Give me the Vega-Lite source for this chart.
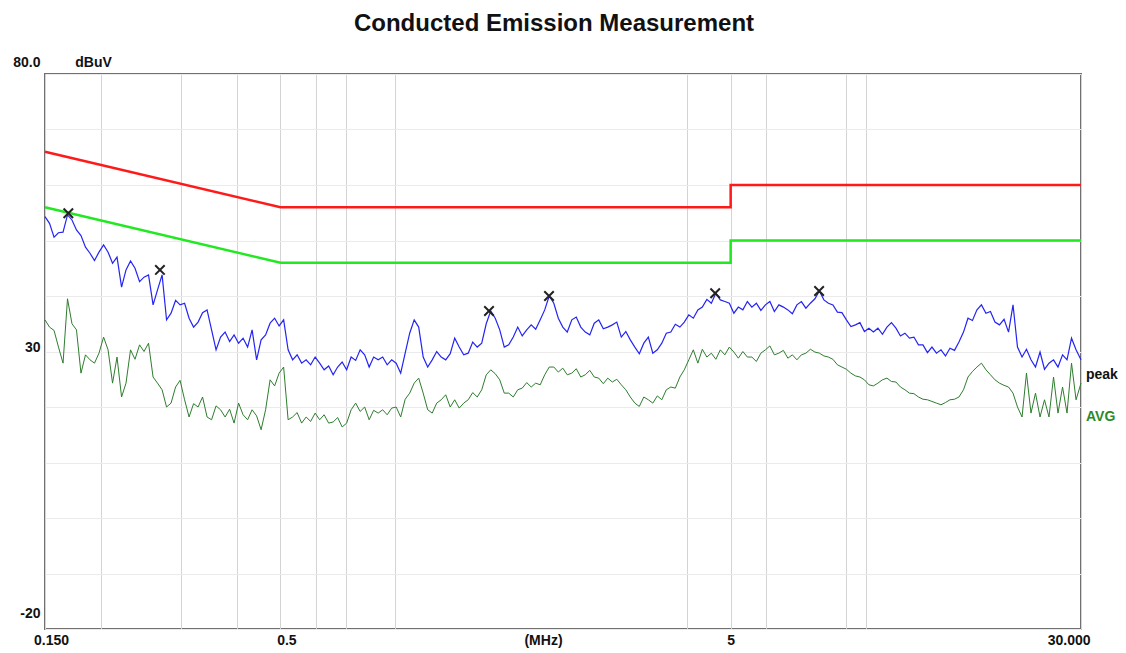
{
  "$schema": "https://vega.github.io/schema/vega-lite/v6.json",
  "width": 1036,
  "height": 555,
  "autosize": {"type": "none"},
  "padding": {"left": 45, "top": 74, "right": 45, "bottom": 24},
  "background": "white",
  "title": {"text": "Conducted Emission Measurement", "font": "Liberation Sans", "fontSize": 24, "fontWeight": "bold", "color": "#111111", "anchor": "middle", "frame": "group", "baseline": "bottom", "offset": -5, "dx": -9},
  "config": {"view": {"stroke": "#707070", "strokeWidth": 2}},
  "datasets": {
    "qp": [{"f":0.15,"v":66,"o":1},{"f":0.5,"v":56,"o":2},{"f":5,"v":56,"o":3},{"f":5,"v":60,"o":4},{"f":30,"v":60,"o":5}],
    "av": [{"f":0.15,"v":56,"o":1},{"f":0.5,"v":46,"o":2},{"f":5,"v":46,"o":3},{"f":5,"v":50,"o":4},{"f":30,"v":50,"o":5}],
    "peak": [
      {"f":0.150,"v":54.3},{"f":0.1535,"v":53.1},{"f":0.1571,"v":50.6},{"f":0.1607,"v":51.4},{"f":0.1645,"v":51.5},{"f":0.1683,"v":54.6},{"f":0.1722,"v":53.7},{"f":0.1762,"v":51.9},{"f":0.1803,"v":50.9},{"f":0.1845,"v":48.8},{"f":0.1888,"v":47.7},{"f":0.1932,"v":46.4},{"f":0.1977,"v":47.9},{"f":0.2024,"v":49.2},{"f":0.2071,"v":47.9},{"f":0.2119,"v":45.9},{"f":0.2168,"v":47.0},{"f":0.2219,"v":41.6},{"f":0.2270,"v":44.7},{"f":0.2323,"v":46.3},{"f":0.2377,"v":45.0},{"f":0.2433,"v":42.6},{"f":0.2489,"v":43.4},{"f":0.2547,"v":43.8},{"f":0.2607,"v":38.4},{"f":0.2667,"v":41.1},{"f":0.2730,"v":43.8},{"f":0.2793,"v":35.7},{"f":0.2858,"v":36.9},{"f":0.2925,"v":39.2},{"f":0.2993,"v":38.4},{"f":0.3063,"v":38.7},{"f":0.3134,"v":36.0},{"f":0.3207,"v":34.4},{"f":0.3282,"v":35.3},{"f":0.3358,"v":37.0},{"f":0.3436,"v":37.5},{"f":0.3516,"v":33.9},{"f":0.3598,"v":30.3},{"f":0.3682,"v":32.6},{"f":0.3768,"v":33.5},{"f":0.3856,"v":31.8},{"f":0.3945,"v":33.0},{"f":0.4037,"v":31.5},{"f":0.4131,"v":32.4},{"f":0.4228,"v":30.8},{"f":0.4326,"v":33.9},{"f":0.4427,"v":28.5},{"f":0.4530,"v":32.1},{"f":0.4635,"v":33.0},{"f":0.4743,"v":35.1},{"f":0.4854,"v":36.0},{"f":0.4967,"v":34.6},{"f":0.5083,"v":35.7},{"f":0.5201,"v":30.3},{"f":0.5322,"v":28.5},{"f":0.5446,"v":29.4},{"f":0.5573,"v":27.9},{"f":0.5703,"v":28.5},{"f":0.5836,"v":27.6},
      {"f":0.5972,"v":29.0},{"f":0.6111,"v":27.9},{"f":0.6253,"v":26.7},{"f":0.6399,"v":27.4},{"f":0.6548,"v":25.8},{"f":0.6700,"v":27.2},{"f":0.6856,"v":28.1},{"f":0.7016,"v":26.7},{"f":0.7179,"v":29.0},{"f":0.7347,"v":28.4},{"f":0.7518,"v":30.3},{"f":0.7693,"v":29.4},{"f":0.7872,"v":27.2},{"f":0.8055,"v":29.0},{"f":0.8243,"v":28.5},{"f":0.8435,"v":29.0},{"f":0.8632,"v":27.6},{"f":0.8833,"v":28.5},{"f":0.9038,"v":27.9},{"f":0.9249,"v":26.1},{"f":0.9464,"v":29.7},{"f":0.9685,"v":33.3},{"f":0.9910,"v":35.7},{"f":1.0141,"v":34.4},{"f":1.0377,"v":29.0},{"f":1.0619,"v":27.2},{"f":1.0867,"v":28.5},{"f":1.1120,"v":30.0},{"f":1.1379,"v":29.0},{"f":1.1644,"v":28.5},{"f":1.1915,"v":29.6},{"f":1.2192,"v":32.4},{"f":1.2476,"v":30.8},{"f":1.2767,"v":29.4},{"f":1.3064,"v":29.7},{"f":1.3369,"v":31.7},{"f":1.3680,"v":30.8},{"f":1.3999,"v":31.5},{"f":1.4325,"v":35.0},{"f":1.4659,"v":37.3},{"f":1.500,"v":36.0},{"f":1.535,"v":33.9},{"f":1.571,"v":30.8},{"f":1.607,"v":31.2},{"f":1.645,"v":32.6},{"f":1.683,"v":34.4},{"f":1.722,"v":32.8},{"f":1.762,"v":33.9},{"f":1.803,"v":34.8},{"f":1.845,"v":34.0},{"f":1.888,"v":35.7},{"f":1.932,"v":37.5},{"f":1.977,"v":40.0},{"f":2.024,"v":38.7},{"f":2.071,"v":36.0},{"f":2.119,"v":34.4},{"f":2.168,"v":33.5},
      {"f":2.219,"v":35.7},{"f":2.270,"v":36.2},{"f":2.323,"v":34.4},{"f":2.377,"v":33.5},{"f":2.433,"v":33.0},{"f":2.489,"v":35.1},{"f":2.547,"v":35.7},{"f":2.607,"v":34.1},{"f":2.667,"v":34.4},{"f":2.730,"v":34.8},{"f":2.793,"v":35.3},{"f":2.858,"v":32.6},{"f":2.925,"v":33.6},{"f":2.993,"v":32.1},{"f":3.063,"v":30.8},{"f":3.134,"v":29.6},{"f":3.207,"v":31.5},{"f":3.282,"v":32.6},{"f":3.358,"v":29.7},{"f":3.436,"v":30.3},{"f":3.516,"v":31.5},{"f":3.598,"v":33.3},{"f":3.682,"v":33.5},{"f":3.768,"v":34.9},{"f":3.856,"v":34.4},{"f":3.945,"v":35.3},{"f":4.037,"v":36.6},{"f":4.131,"v":36.0},{"f":4.228,"v":37.5},{"f":4.326,"v":38.0},{"f":4.427,"v":39.4},{"f":4.530,"v":38.7},{"f":4.635,"v":40.5},{"f":4.743,"v":39.3},{"f":4.854,"v":39.0},{"f":4.967,"v":38.7},{"f":5.083,"v":36.9},{"f":5.201,"v":38.0},{"f":5.322,"v":37.5},{"f":5.446,"v":39.0},{"f":5.573,"v":38.0},{"f":5.703,"v":38.7},{"f":5.836,"v":37.4},{"f":5.972,"v":38.4},{"f":6.111,"v":39.0},{"f":6.253,"v":37.2},{"f":6.399,"v":38.4},{"f":6.548,"v":38.0},{"f":6.700,"v":37.5},{"f":6.856,"v":36.8},{"f":7.016,"v":38.4},{"f":7.179,"v":39.0},{"f":7.347,"v":37.8},{"f":7.518,"v":38.7},{"f":7.693,"v":39.5},{"f":7.872,"v":40.9},{"f":8.055,"v":39.3},{"f":8.243,"v":38.7},
      {"f":8.435,"v":38.4},{"f":8.632,"v":37.1},{"f":8.833,"v":37.0},{"f":9.038,"v":35.7},{"f":9.249,"v":34.5},{"f":9.464,"v":34.8},{"f":9.685,"v":35.2},{"f":9.910,"v":33.6},{"f":10.141,"v":34.2},{"f":10.377,"v":33.5},{"f":10.619,"v":34.2},{"f":10.867,"v":33.1},{"f":11.120,"v":34.4},{"f":11.379,"v":35.2},{"f":11.644,"v":34.2},{"f":11.915,"v":32.8},{"f":12.192,"v":33.3},{"f":12.476,"v":32.4},{"f":12.767,"v":32.6},{"f":13.064,"v":31.2},{"f":13.369,"v":31.2},{"f":13.680,"v":29.8},{"f":13.999,"v":30.8},{"f":14.325,"v":29.7},{"f":14.659,"v":30.3},{"f":15.00,"v":29.2},{"f":15.35,"v":30.6},{"f":15.71,"v":30.2},{"f":16.07,"v":31.7},{"f":16.45,"v":33.5},{"f":16.83,"v":36.0},{"f":17.22,"v":35.6},{"f":17.62,"v":37.5},{"f":18.03,"v":38.4},{"f":18.45,"v":36.9},{"f":18.88,"v":37.2},{"f":19.32,"v":35.3},{"f":19.77,"v":34.8},{"f":20.24,"v":35.8},{"f":20.71,"v":33.5},{"f":21.19,"v":38.4},{"f":21.68,"v":30.8},{"f":22.19,"v":29.0},{"f":22.70,"v":30.4},{"f":23.23,"v":28.5},{"f":23.77,"v":27.2},{"f":24.33,"v":29.9},{"f":24.89,"v":26.8},{"f":25.47,"v":27.9},{"f":26.07,"v":28.5},{"f":26.67,"v":27.2},{"f":27.30,"v":29.4},{"f":27.93,"v":28.5},{"f":28.58,"v":32.4},{"f":29.25,"v":30.3},{"f":30.0,"v":28.5}
    ],
    "avg": [
      {"f":0.150,"v":35.7},{"f":0.1535,"v":34.4},{"f":0.1571,"v":33.8},{"f":0.1607,"v":30.8},{"f":0.1645,"v":27.9},{"f":0.1683,"v":39.5},{"f":0.1722,"v":35.0},{"f":0.1762,"v":33.9},{"f":0.1803,"v":26.1},{"f":0.1845,"v":29.4},{"f":0.1888,"v":28.5},{"f":0.1932,"v":27.9},{"f":0.1977,"v":29.7},{"f":0.2024,"v":32.6},{"f":0.2071,"v":30.3},{"f":0.2119,"v":24.3},{"f":0.2168,"v":29.0},{"f":0.2219,"v":21.8},{"f":0.2270,"v":24.3},{"f":0.2323,"v":30.3},{"f":0.2377,"v":28.6},{"f":0.2433,"v":31.2},{"f":0.2489,"v":30.0},{"f":0.2547,"v":31.5},{"f":0.2607,"v":25.4},{"f":0.2667,"v":24.3},{"f":0.2730,"v":23.1},{"f":0.2793,"v":20.0},{"f":0.2858,"v":20.7},{"f":0.2925,"v":23.6},{"f":0.2993,"v":24.8},{"f":0.3063,"v":21.3},{"f":0.3134,"v":18.2},{"f":0.3207,"v":20.6},{"f":0.3282,"v":20.0},{"f":0.3358,"v":21.8},{"f":0.3436,"v":18.2},{"f":0.3516,"v":17.7},{"f":0.3598,"v":20.2},{"f":0.3682,"v":19.5},{"f":0.3768,"v":18.2},{"f":0.3856,"v":19.6},{"f":0.3945,"v":17.1},{"f":0.4037,"v":20.7},{"f":0.4131,"v":18.6},{"f":0.4228,"v":17.7},{"f":0.4326,"v":19.5},{"f":0.4427,"v":18.4},{"f":0.4530,"v":15.9},{"f":0.4635,"v":19.5},{"f":0.4743,"v":24.9},{"f":0.4854,"v":23.8},{"f":0.4967,"v":26.1},{"f":0.5083,"v":27.2},{"f":0.5201,"v":17.7},{"f":0.5322,"v":18.2},{"f":0.5446,"v":19.0},{"f":0.5573,"v":17.1},{"f":0.5703,"v":18.2},{"f":0.5836,"v":17.4},
      {"f":0.5972,"v":18.9},{"f":0.6111,"v":17.7},{"f":0.6253,"v":18.6},{"f":0.6399,"v":17.1},{"f":0.6548,"v":17.3},{"f":0.6700,"v":18.1},{"f":0.6856,"v":16.4},{"f":0.7016,"v":17.1},{"f":0.7179,"v":19.5},{"f":0.7347,"v":20.7},{"f":0.7518,"v":19.2},{"f":0.7693,"v":20.0},{"f":0.7872,"v":17.7},{"f":0.8055,"v":19.4},{"f":0.8243,"v":18.9},{"f":0.8435,"v":19.5},{"f":0.8632,"v":18.6},{"f":0.8833,"v":19.8},{"f":0.9038,"v":20.0},{"f":0.9249,"v":18.2},{"f":0.9464,"v":21.4},{"f":0.9685,"v":22.5},{"f":0.9910,"v":24.3},{"f":1.0141,"v":25.2},{"f":1.0377,"v":22.5},{"f":1.0619,"v":19.5},{"f":1.0867,"v":18.9},{"f":1.1120,"v":20.7},{"f":1.1379,"v":21.3},{"f":1.1644,"v":22.2},{"f":1.1915,"v":20.0},{"f":1.2192,"v":21.3},{"f":1.2476,"v":19.8},{"f":1.2767,"v":20.7},{"f":1.3064,"v":21.3},{"f":1.3369,"v":22.6},{"f":1.3680,"v":21.8},{"f":1.3999,"v":23.1},{"f":1.4325,"v":25.8},{"f":1.4659,"v":26.7},{"f":1.500,"v":26.0},{"f":1.535,"v":24.9},{"f":1.571,"v":22.5},{"f":1.607,"v":22.5},{"f":1.645,"v":21.8},{"f":1.683,"v":23.1},{"f":1.722,"v":23.4},{"f":1.762,"v":24.4},{"f":1.803,"v":23.6},{"f":1.845,"v":24.3},{"f":1.888,"v":24.0},{"f":1.932,"v":25.8},{"f":1.977,"v":27.2},{"f":2.024,"v":27.2},{"f":2.071,"v":26.3},{"f":2.119,"v":27.0},{"f":2.168,"v":25.8},
      {"f":2.219,"v":26.1},{"f":2.270,"v":26.9},{"f":2.323,"v":25.4},{"f":2.377,"v":25.8},{"f":2.433,"v":26.6},{"f":2.489,"v":25.4},{"f":2.547,"v":25.2},{"f":2.607,"v":24.2},{"f":2.667,"v":25.2},{"f":2.730,"v":24.5},{"f":2.793,"v":25.0},{"f":2.858,"v":24.0},{"f":2.925,"v":23.1},{"f":2.993,"v":21.8},{"f":3.063,"v":20.7},{"f":3.134,"v":20.1},{"f":3.207,"v":21.8},{"f":3.282,"v":21.3},{"f":3.358,"v":20.7},{"f":3.436,"v":22.0},{"f":3.516,"v":21.3},{"f":3.598,"v":23.1},{"f":3.682,"v":23.6},{"f":3.768,"v":23.4},{"f":3.856,"v":25.4},{"f":3.945,"v":26.7},{"f":4.037,"v":28.5},{"f":4.131,"v":30.3},{"f":4.228,"v":27.9},{"f":4.326,"v":30.4},{"f":4.427,"v":29.0},{"f":4.530,"v":29.7},{"f":4.635,"v":28.6},{"f":4.743,"v":30.3},{"f":4.854,"v":29.4},{"f":4.967,"v":30.8},{"f":5.083,"v":29.9},{"f":5.201,"v":28.8},{"f":5.322,"v":30.0},{"f":5.446,"v":29.0},{"f":5.573,"v":29.0},{"f":5.703,"v":28.2},{"f":5.836,"v":29.7},{"f":5.972,"v":30.3},{"f":6.111,"v":31.0},{"f":6.253,"v":29.4},{"f":6.399,"v":29.7},{"f":6.548,"v":30.2},{"f":6.700,"v":28.8},{"f":6.856,"v":29.4},{"f":7.016,"v":28.5},{"f":7.179,"v":29.4},{"f":7.347,"v":29.7},{"f":7.518,"v":30.4},{"f":7.693,"v":29.9},{"f":7.872,"v":29.7},{"f":8.055,"v":29.2},{"f":8.243,"v":29.0},
      {"f":8.435,"v":28.6},{"f":8.632,"v":27.6},{"f":8.833,"v":27.2},{"f":9.038,"v":26.8},{"f":9.249,"v":26.1},{"f":9.464,"v":25.6},{"f":9.685,"v":25.4},{"f":9.910,"v":24.9},{"f":10.141,"v":24.0},{"f":10.377,"v":23.8},{"f":10.619,"v":24.3},{"f":10.867,"v":24.9},{"f":11.120,"v":25.2},{"f":11.379,"v":24.6},{"f":11.644,"v":24.5},{"f":11.915,"v":23.6},{"f":12.192,"v":23.1},{"f":12.476,"v":22.5},{"f":12.767,"v":22.4},{"f":13.064,"v":21.8},{"f":13.369,"v":21.4},{"f":13.680,"v":21.3},{"f":13.999,"v":21.0},{"f":14.325,"v":20.7},{"f":14.659,"v":20.4},{"f":15.00,"v":20.8},{"f":15.35,"v":21.3},{"f":15.71,"v":21.4},{"f":16.07,"v":21.8},{"f":16.45,"v":23.1},{"f":16.83,"v":25.4},{"f":17.22,"v":26.4},{"f":17.62,"v":27.2},{"f":18.03,"v":27.9},{"f":18.45,"v":26.7},{"f":18.88,"v":25.8},{"f":19.32,"v":24.9},{"f":19.77,"v":24.3},{"f":20.24,"v":23.9},{"f":20.71,"v":23.6},{"f":21.19,"v":22.5},{"f":21.68,"v":20.0},{"f":22.19,"v":18.2},{"f":22.70,"v":26.1},{"f":23.23,"v":18.9},{"f":23.77,"v":22.5},{"f":24.33,"v":18.2},{"f":24.89,"v":21.3},{"f":25.47,"v":18.2},{"f":26.07,"v":25.4},{"f":26.67,"v":18.9},{"f":27.30,"v":23.6},{"f":27.93,"v":18.9},{"f":28.58,"v":27.9},{"f":29.25,"v":21.3},{"f":30.0,"v":24.3}
    ],
    "marks": [{"f":0.169,"v":54.9},{"f":0.270,"v":44.7},{"f":1.453,"v":37.3},{"f":1.975,"v":40.0},{"f":4.62,"v":40.5},{"f":7.86,"v":40.9}],
    "labels": [{"f":30,"v":25.8,"t":"peak","c":"#111111"},{"f":30,"v":18.2,"t":"AVG","c":"#2a8a2a"}]
  },
  "encoding": {
    "x": {
      "field": "f", "type": "quantitative",
      "scale": {"type": "log", "domain": [0.15, 30], "nice": false},
      "axis": {
        "values": [0.15, 0.2, 0.3, 0.4, 0.5, 0.6, 0.7, 0.9, 4, 5, 6, 9, 10, 30],
        "labelExpr": "datum.value == 0.15 ? '0.150' : datum.value == 0.5 ? '0.5' : datum.value == 5 ? '5' : datum.value == 30 ? '30.000' : ''",
        "grid": true, "gridColor": "#d4d4d4", "gridWidth": 1,
        "ticks": false, "domain": false,
        "labelFlush": false, "labelBound": false, "labelOverlap": false,
        "labelFont": "Liberation Sans", "labelFontSize": 14, "labelFontWeight": "bold", "labelColor": "#111111",
        "labelPadding": 4,
        "labelAlign": {"condition": {"test": "datum.value == 30", "value": "right"}, "value": "center"},
        "labelOffset": {"condition": [{"test": "datum.value == 30", "value": 9}, {"test": "datum.value == 0.5", "value": 6}, {"test": "datum.value == 0.15", "value": 6}], "value": 0},
        "title": "(MHz)", "titleX": 498, "titleY": 11, "titleAlign": "center", "titleBaseline": "middle",
        "titleFont": "Liberation Sans", "titleFontSize": 14, "titleFontWeight": "bold", "titleColor": "#111111"
      }
    },
    "y": {
      "field": "v", "type": "quantitative",
      "scale": {"domain": [-20, 80], "nice": false, "zero": false},
      "axis": {
        "values": [80, 70, 60, 50, 40, 30, 20, 10, 0, -10, -20],
        "labelExpr": "datum.value == 80 ? '80.0' : datum.value == 30 ? '30' : datum.value == -20 ? '-20' : ''",
        "grid": true, "gridColor": "#ebebeb", "gridWidth": 1,
        "ticks": false, "domain": false,
        "labelFlush": false, "labelBound": false, "labelOverlap": false,
        "labelFont": "Liberation Sans", "labelFontSize": 14, "labelFontWeight": "bold", "labelColor": "#111111",
        "labelPadding": 5,
        "labelOffset": {"condition": [{"test": "datum.value == 80", "value": -12}, {"test": "datum.value == -20", "value": -16}], "value": -4},
        "title": "dBuV", "titleAngle": 0, "titleX": 48, "titleY": -12, "titleAlign": "center", "titleBaseline": "middle",
        "titleFont": "Liberation Sans", "titleFontSize": 14, "titleFontWeight": "bold", "titleColor": "#111111"
      }
    }
  },
  "layer": [
    {"data": {"name": "qp"}, "mark": {"type": "line", "color": "#ff1a1a", "strokeWidth": 2.5}, "encoding": {"order": {"field": "o"}}},
    {"data": {"name": "av"}, "mark": {"type": "line", "color": "#22e822", "strokeWidth": 2.5}, "encoding": {"order": {"field": "o"}}},
    {"data": {"name": "avg"}, "mark": {"type": "line", "color": "#2e7d2e", "strokeWidth": 1}, "encoding": {"order": {"field": "f"}}},
    {"data": {"name": "peak"}, "mark": {"type": "line", "color": "#2424f4", "strokeWidth": 1.2}, "encoding": {"order": {"field": "f"}}},
    {"data": {"name": "marks"}, "mark": {"type": "point", "shape": "M-1,-1L1,1M1,-1L-1,1", "filled": false, "stroke": "#222222", "strokeWidth": 2, "size": 90, "opacity": 1}},
    {"data": {"name": "labels"}, "mark": {"type": "text", "align": "left", "baseline": "middle", "dx": 5, "font": "Liberation Sans", "fontSize": 14, "fontWeight": "bold"}, "encoding": {"text": {"field": "t"}, "color": {"field": "c", "type": "nominal", "scale": null}}}
  ]
}
